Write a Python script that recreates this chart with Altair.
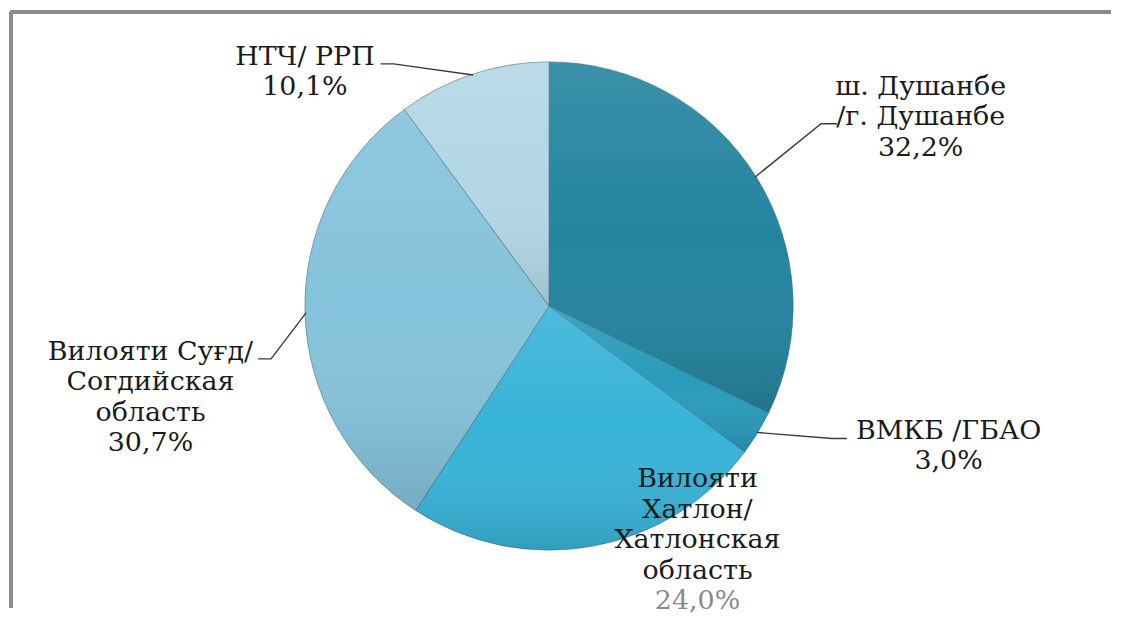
import math
import altair as alt
import pandas as pd

# ---- data ----
regions = [
    "ш. Душанбе /г. Душанбе",
    "ВМКБ /ГБАО",
    "Вилояти Хатлон/ Хатлонская область",
    "Вилояти Суғд/ Согдийская область",
    "НТЧ/ РРП",
]
shares = [32.2, 3.0, 24.0, 30.7, 10.1]
share_labels = ["32,2%", "3,0%", "24,0%", "30,7%", "10,1%"]
label_lines = [
    ["ш. Душанбе", "/г. Душанбе"],
    ["ВМКБ /ГБАО"],
    ["Вилояти", "Хатлон/", "Хатлонская", "область"],
    ["Вилояти Суғд/", "Согдийская", "область"],
    ["НТЧ/ РРП"],
]

# ---- styles / layout ----
colors = ["#24849f", "#2a9bbb", "#38b3d8", "#84c3db", "#b3d7e5"]
W, H = 1105, 601
CX, CY, R = 541, 298, 245
LINE_H = 30.5
FONT = "DejaVu Serif"
FS = 27
# label block anchors (center x, first line y) in plot coords
label_pos = [(914, 78), (942, 423), (690, 472), (141, 344), (296, 48)]
# leader elbows and outer ends (plot coords); None = no leader
leader_pts = [
    [(814, 115), (830, 115)],
    [(825, 431), (840, 431)],
    None,
    [(262, 351), (249, 351)],
    [(385, 55), (372, 55)],
]

pie = pd.DataFrame({"region": regions, "share": shares, "idx": range(len(regions))})

# text table
rows = []
for i, lines in enumerate(label_lines):
    x0, y0 = label_pos[i]
    all_lines = lines + [share_labels[i]]
    for j, t in enumerate(all_lines):
        c = "#1a1a1a"
        if i == 2 and j == len(all_lines) - 1:
            c = "#8a8a8a"
        rows.append({"x": x0, "y": y0 + j * LINE_H, "t": t, "c": c})
texts = pd.DataFrame(rows)

# leader lines; inner point derived from slice mid-angle
lrows = []
cum = 0.0
for i, s in enumerate(shares):
    mid = (cum + s / 2) / 100 * 2 * math.pi
    cum += s
    if leader_pts[i] is None:
        continue
    ix = CX + (R - 1) * math.sin(mid)
    iy = CY - (R - 1) * math.cos(mid)
    pts = [(ix, iy)] + leader_pts[i]
    for k, (px, py) in enumerate(pts):
        lrows.append({"region": regions[i], "x": px, "y": py, "k": k})
leaders = pd.DataFrame(lrows)

base_arc = alt.Chart(pie).mark_arc(
    outerRadius=R, stroke="#3d6f80", strokeWidth=1, strokeOpacity=0.6
).encode(
    theta=alt.Theta("share:Q", stack=True),
    color=alt.Color("region:N", scale=alt.Scale(domain=regions, range=colors), legend=None),
    order=alt.Order("idx:Q"),
    x=alt.value(CX),
    y=alt.value(CY),
)

shade = alt.Gradient(
    gradient="linear",
    x1=0, y1=0, x2=0, y2=1,
    stops=[
        alt.GradientStop(offset=0, color="rgba(255,255,255,0.10)"),
        alt.GradientStop(offset=0.5, color="rgba(255,255,255,0)"),
        alt.GradientStop(offset=1, color="rgba(0,0,0,0.12)"),
    ],
)
shade_arc = alt.Chart(pie).mark_arc(outerRadius=R, fill=shade).encode(
    theta=alt.Theta("share:Q", stack=True),
    order=alt.Order("idx:Q"),
    x=alt.value(CX),
    y=alt.value(CY),
)

leader_layer = alt.Chart(leaders).mark_line(color="#3a3a3a", strokeWidth=1.4).encode(
    x=alt.X("x:Q", scale=None, axis=None),
    y=alt.Y("y:Q", scale=None, axis=None),
    detail="region:N",
    order="k:Q",
)

text_layer = alt.Chart(texts).mark_text(
    font=FONT, fontSize=FS, align="center", baseline="middle"
).encode(
    x=alt.X("x:Q", scale=None, axis=None),
    y=alt.Y("y:Q", scale=None, axis=None),
    text="t:N",
    color=alt.Color("c:N", scale=None),
)

frame_left = alt.Chart(pie).mark_rule(color="#8a8a8a", strokeWidth=3).encode(
    x=alt.value(1), y=alt.value(3), y2=alt.value(H)
)
frame_top = alt.Chart(pie).mark_rule(color="#8a8a8a", strokeWidth=3).encode(
    x=alt.value(0), x2=alt.value(W), y=alt.value(3)
)

chart = alt.layer(
    base_arc, shade_arc, leader_layer, text_layer, frame_left, frame_top
).properties(width=W, height=H, padding=0, background="white").configure_view(stroke=None)

chart.save("out.html", embed_options={"renderer": "svg", "actions": False})
